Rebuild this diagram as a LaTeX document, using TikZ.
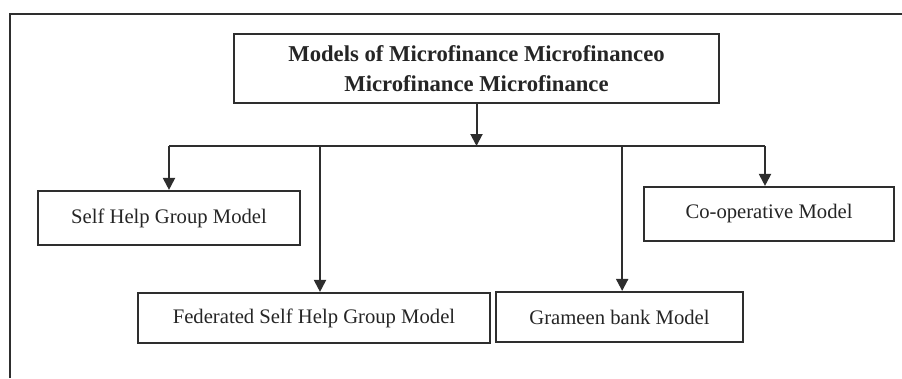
\documentclass[tikz,border=0pt]{standalone}
\usepackage{fontspec}
\setmainfont{Liberation Serif}
\usetikzlibrary{arrows.meta}
\definecolor{ink}{HTML}{2E2E2E}
\tikzset{
  modelbox/.style={draw=ink, line width=1.6pt, inner sep=0pt, align=center,
    text=ink!80!black, font=\fontsize{15.5}{18}\selectfont},
  titlebox/.style={modelbox, font=\fontsize{17}{22}\selectfont\bfseries},
  feed/.style={draw=ink, line width=1.5pt, -{Triangle[length=9pt,width=9pt]}},
  bus/.style={draw=ink, line width=1.5pt},
  frame/.style={draw=ink, line width=1.6pt}
}
\begin{document}
\begin{tikzpicture}[x=0.75pt, y=-0.75pt]
  \useasboundingbox (0,0) rectangle (902,378);
  % outer frame (top and left edges)
  \draw[frame] (10,378) -- (10,14) -- (902,14);

  % boxes
  \node[titlebox, minimum width={485*0.75pt}, minimum height={69*0.75pt}] (top) at (476.5,68.5)
    {Models of Microfinance Microfinanceo\\Microfinance Microfinance};
  \node[modelbox, minimum width={262*0.75pt}, minimum height={54*0.75pt}] (shg) at (169,218) {Self Help Group Model};
  \node[modelbox, minimum width={352*0.75pt}, minimum height={50*0.75pt}] (fed) at (314,318) {Federated Self Help Group Model};
  \node[modelbox, minimum width={247*0.75pt}, minimum height={50*0.75pt}] (gram) at (619.5,317) {Grameen bank Model};
  \node[modelbox, minimum width={250*0.75pt}, minimum height={54*0.75pt}] (coop) at (769,214) {Co-operative Model};

  % distribution bus
  \coordinate (busy) at (0,146);
  \draw[feed] (top.south) -- (top.south |- busy);
  \draw[bus] (shg.north |- busy) -- ([xshift=-3pt]coop.north |- busy);
  \draw[feed] (shg.north |- busy) -- (shg.north);
  \draw[feed] ([xshift=4.5pt]fed.north |- busy) -- ([xshift=4.5pt]fed.north);
  \draw[feed] ([xshift=2pt]gram.north |- busy) -- ([xshift=2pt]gram.north);
  \draw[feed] ([xshift=-3pt]coop.north |- busy) -- ([xshift=-3pt]coop.north);
\end{tikzpicture}
\end{document}
